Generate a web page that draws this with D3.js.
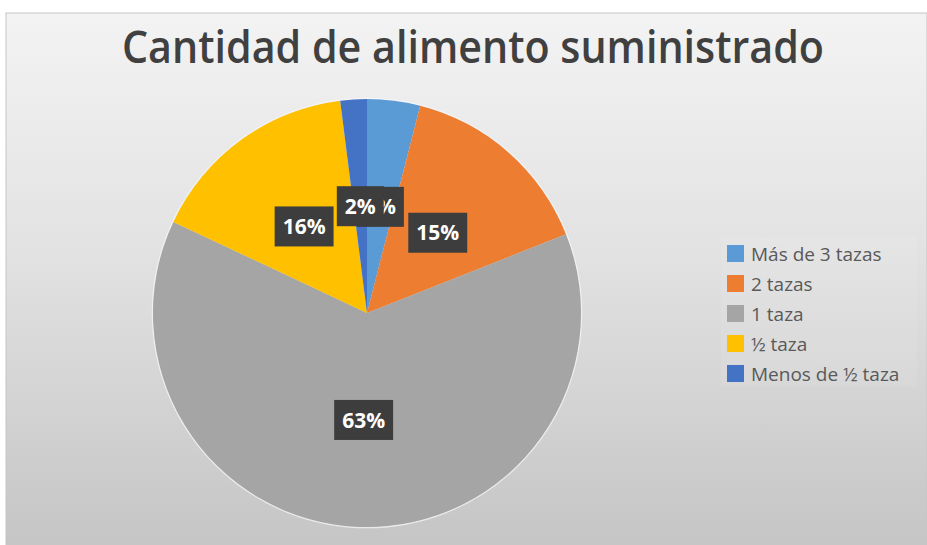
<!DOCTYPE html>
<html>
<head>
<meta charset="utf-8">
<script src="https://cdn.jsdelivr.net/npm/d3@7"></script>
<style>
  body { margin: 0; background: #fff; }
  svg { display: block; }
</style>
</head>
<body>
<script>
// chart data
var categories = ["Más de 3 tazas", "2 tazas", "1 taza", "½ taza", "Menos de ½ taza"];
var values = [4, 15, 63, 16, 2];
var colors = ["#5B9BD5", "#ED7D31", "#A5A5A5", "#FFC000", "#4472C4"];
var title = "Cantidad de alimento suministrado";

var w = 927, h = 545;
var svg = d3.select("body").append("svg")
    .attr("width", w)
    .attr("height", h);

// background gradient of the chart area
var defs = svg.append("defs");
var grad = defs.append("linearGradient")
    .attr("id", "bg")
    .attr("x1", 0).attr("y1", 0).attr("x2", 0).attr("y2", 1);
grad.append("stop").attr("offset", "0%").attr("stop-color", "#f3f3f3");
grad.append("stop").attr("offset", "45%").attr("stop-color", "#e2e2e2");
grad.append("stop").attr("offset", "100%").attr("stop-color", "#c5c5c5");

svg.append("rect")
    .attr("x", 6).attr("y", 13)
    .attr("width", w - 6).attr("height", h - 13)
    .attr("fill", "url(#bg)")
    .attr("stroke", "#c6c6c6")
    .attr("stroke-width", 1);

// title
svg.append("text")
    .attr("x", 473)
    .attr("y", 63)
    .attr("text-anchor", "middle")
    .attr("textLength", 702)
    .attr("lengthAdjust", "spacingAndGlyphs")
    .style("font-family", "'Open Sans', sans-serif")
    .style("font-weight", 600)
    .style("font-size", "45px")
    .style("fill", "#404040")
    .text(title);

// pie
var cx = 367, cy = 313, r = 214;
var pie = d3.pie().sort(null).value(d => d.value);
var arc = d3.arc().innerRadius(0).outerRadius(r);
var data = categories.map((c, i) => ({ name: c, value: values[i], color: colors[i] }));
var arcs = pie(data);
var total = d3.sum(values);

var g = svg.append("g").attr("transform", "translate(" + cx + "," + cy + ")");

g.append("circle")
    .attr("r", r + 0.5)
    .attr("fill", "none")
    .attr("stroke", "#f7f8fc")
    .attr("stroke-opacity", 0.7)
    .attr("stroke-width", 1.5);

g.selectAll("path.slice")
    .data(arcs)
    .enter()
    .append("path")
    .attr("class", "slice")
    .attr("d", arc)
    .attr("fill", d => d.data.color);

// data labels, dark boxes with white percentage
var labels = g.selectAll("g.lbl")
    .data(arcs)
    .enter()
    .append("g")
    .attr("class", "lbl")
    .attr("transform", d => "translate(" + arc.centroid(d) + ")");

labels.each(function(d) {
    var sel = d3.select(this);
    var txt = Math.round(d.data.value / total * 100) + "%";
    var rect = sel.append("rect").attr("fill", "#3d3d3d");
    var t = sel.append("text")
        .attr("text-anchor", "middle")
        .attr("dy", "0.36em")
        .style("font-family", "'Open Sans', sans-serif")
        .style("font-weight", 700)
        .style("font-size", "21px")
        .style("fill", "#ffffff")
        .text(txt);
    var tw = t.node().getComputedTextLength();
    rect.attr("x", -tw / 2 - 8).attr("y", -20)
        .attr("width", tw + 16).attr("height", 40);
});

// legend
var legend = svg.append("g").attr("transform", "translate(727,245)");
legend.append("rect")
    .attr("x", -6).attr("y", -8)
    .attr("width", 196).attr("height", 150)
    .attr("fill", "#ffffff")
    .attr("opacity", 0.08);
var items = legend.selectAll("g.item")
    .data(data)
    .enter()
    .append("g")
    .attr("class", "item")
    .attr("transform", (d, i) => "translate(0," + (i * 30) + ")");
items.append("rect")
    .attr("width", 17).attr("height", 17)
    .attr("fill", d => d.color);
items.append("text")
    .attr("x", 24)
    .attr("y", 9)
    .attr("dy", "0.36em")
    .style("font-family", "'Open Sans', sans-serif")
    .style("font-size", "19px")
    .style("fill", "#595959")
    .text(d => d.name);
</script>
</body>
</html>
